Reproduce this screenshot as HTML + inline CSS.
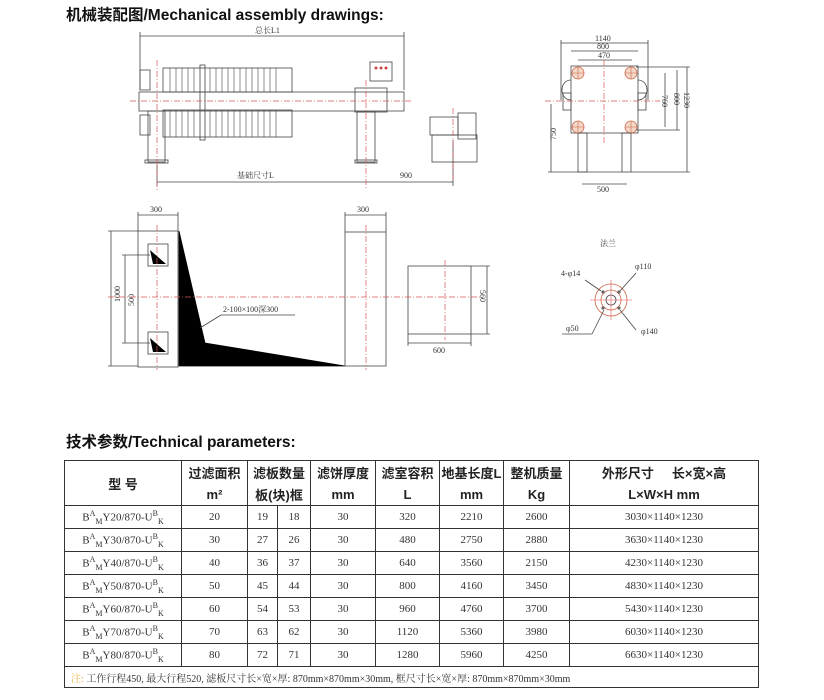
<!DOCTYPE html>
<html><head><meta charset="utf-8"><style>
body{margin:0;width:824px;height:700px;background:#fff;position:relative;overflow:hidden;font-family:"Liberation Sans","Noto Sans CJK SC",sans-serif}
.t{position:absolute;font-weight:bold;font-size:15.5px;color:#111;white-space:nowrap}
table{position:absolute;left:64px;top:460px;border-collapse:collapse;width:695px}
td{border:1px solid #333;text-align:center;font-family:"Liberation Serif","Noto Serif CJK SC",serif;font-size:11px;color:#333;height:22px;padding:0}
.h td{font-family:"Liberation Sans","Noto Sans CJK SC",sans-serif;font-weight:bold;font-size:13px;color:#222;height:22px;border-top:none;border-bottom:none}
.m{font-size:10px;text-align:left;padding-left:12px}
sup,sub{font-size:8px}
</style></head><body>
<div class="t" style="left:66px;top:3px">机械装配图/Mechanical assembly drawings:</div>
<div class="t" style="left:66px;top:430px">技术参数/Technical parameters:</div>
<svg width="824" height="420" style="position:absolute;left:0;top:0" font-family="Liberation Serif,Noto Serif CJK SC,serif" font-size="8" fill="none" stroke="#444" stroke-width="0.8">
<line x1="140" y1="36" x2="404" y2="36"/><line x1="140" y1="32" x2="140" y2="90"/><line x1="404" y1="32" x2="404" y2="90"/>
<text x="255" y="33" fill="#333" stroke="none">总长L1</text>
<rect x="163" y="68" width="129" height="24"/><rect x="163" y="110" width="129" height="27"/>
<g stroke-width="0.6">
<path d="M170 68V92M176 68V92M182 68V92M188 68V92M194 68V92M210 68V92M216 68V92M222 68V92M228 68V92M234 68V92M240 68V92M246 68V92M252 68V92M258 68V92M264 68V92M270 68V92M276 68V92"/>
<path d="M170 110V137M176 110V137M182 110V137M188 110V137M194 110V137M210 110V137M216 110V137M222 110V137M228 110V137M234 110V137M240 110V137M246 110V137M252 110V137M258 110V137M264 110V137M270 110V137M276 110V137"/>
</g>
<rect x="200" y="65" width="5" height="75"/>
<rect x="139" y="92" width="265" height="19"/>
<rect x="148" y="111" width="17" height="51"/><rect x="145" y="160" width="23" height="3"/>
<rect x="140" y="70" width="10" height="20"/><rect x="140" y="115" width="10" height="20"/>
<rect x="355" y="88" width="32" height="24"/>
<rect x="357" y="112" width="18" height="50"/><rect x="355" y="160" width="22" height="3"/>
<rect x="370" y="62" width="22" height="19"/>
<g fill="#c44" stroke="none"><circle cx="376" cy="68" r="1.5"/><circle cx="381" cy="68" r="1.5"/><circle cx="386" cy="68" r="1.5"/></g>
<rect x="430" y="117" width="28" height="18"/><rect x="458" y="113" width="18" height="26"/><rect x="432" y="135" width="45" height="27"/>
<line x1="157" y1="182" x2="453" y2="182"/><line x1="157" y1="165" x2="157" y2="186"/><line x1="453" y1="140" x2="453" y2="186"/>
<text x="237" y="178" fill="#333" stroke="none">基础尺寸L</text><text x="400" y="178" fill="#333" stroke="none">900</text>
<g stroke="#d55" stroke-dasharray="6,2,1,2" stroke-width="0.7">
<line x1="130" y1="101" x2="412" y2="101"/><line x1="157" y1="60" x2="157" y2="190"/><line x1="366" y1="80" x2="366" y2="188"/><line x1="453" y1="108" x2="453" y2="180"/>
</g>
<line x1="561" y1="43" x2="648" y2="43"/><line x1="571" y1="51" x2="638" y2="51"/><line x1="578" y1="60" x2="632" y2="60"/>
<line x1="561" y1="40" x2="561" y2="100"/><line x1="648" y1="40" x2="648" y2="100"/>
<text x="595" y="41" fill="#333" stroke="none">1140</text><text x="597" y="49" fill="#333" stroke="none">800</text><text x="598" y="58" fill="#333" stroke="none">470</text>
<rect x="571" y="66" width="67" height="67"/>
<path d="M571 80c-12 0-12 20 0 20M638 80c12 0 12 20 0 20"/>
<rect x="563" y="93" width="8" height="17"/><rect x="638" y="93" width="8" height="17"/>
<g stroke="#c64" fill="#f3d8c8"><circle cx="578" cy="73" r="6"/><circle cx="631" cy="73" r="6"/><circle cx="578" cy="127" r="6"/><circle cx="631" cy="127" r="6"/></g>
<g stroke="#c64" stroke-width="0.6"><path d="M572 73h12M578 67v12M625 73h12M631 67v12M572 127h12M578 121v12M625 127h12M631 121v12"/></g>
<rect x="578" y="133" width="9" height="39"/><rect x="622" y="133" width="9" height="39"/>
<line x1="582" y1="184" x2="627" y2="184"/><text x="597" y="192" fill="#333" stroke="none">500</text>
<line x1="551" y1="104" x2="551" y2="172"/><line x1="548" y1="172" x2="622" y2="172"/><text x="556" y="140" fill="#333" stroke="none" transform="rotate(-90 556 140)">750</text>
<line x1="665" y1="73" x2="665" y2="127"/><line x1="677" y1="70" x2="677" y2="130"/><line x1="687" y1="67" x2="687" y2="172"/>
<line x1="636" y1="67" x2="690" y2="67"/><line x1="636" y1="130" x2="680" y2="130"/><line x1="631" y1="172" x2="690" y2="172"/>
<text x="662" y="95" fill="#333" stroke="none" transform="rotate(90 662 95)">760</text><text x="674" y="93" fill="#333" stroke="none" transform="rotate(90 674 93)">800</text><text x="684" y="92" fill="#333" stroke="none" transform="rotate(90 684 92)">1230</text>
<g stroke="#d55" stroke-dasharray="6,2,1,2" stroke-width="0.7"><line x1="545" y1="101" x2="660" y2="101"/><line x1="604" y1="60" x2="604" y2="145"/></g>
<line x1="138" y1="215" x2="178" y2="215"/><text x="150" y="212" fill="#333" stroke="none">300</text>
<line x1="138" y1="212" x2="138" y2="231"/><line x1="178" y1="212" x2="178" y2="231"/>
<rect x="138" y="231" width="40" height="136"/>
<polygon points="179,231 205,343 345,366 179,366" fill="#000" stroke="#000"/>
<rect x="148" y="244" width="20" height="22"/><rect x="148" y="332" width="20" height="22"/>
<polygon points="150,250 153,264 166,264" fill="#000" stroke="none"/><polygon points="150,338 153,352 166,352" fill="#000" stroke="none"/>
<line x1="111" y1="231" x2="111" y2="366"/><line x1="108" y1="231" x2="138" y2="231"/><line x1="108" y1="366" x2="138" y2="366"/>
<line x1="125" y1="255" x2="125" y2="343"/><line x1="122" y1="255" x2="150" y2="255"/><line x1="122" y1="343" x2="150" y2="343"/>
<text x="120" y="302" fill="#333" stroke="none" transform="rotate(-90 120 302)">1000</text><text x="134" y="306" fill="#333" stroke="none" transform="rotate(-90 134 306)">500</text>
<text x="223" y="312" fill="#333" stroke="none">2-100×100深300</text><line x1="221" y1="315" x2="295" y2="315"/><line x1="200" y1="328" x2="221" y2="315"/>
<rect x="345" y="232" width="41" height="134"/><line x1="345" y1="215" x2="386" y2="215"/><text x="357" y="212" fill="#333" stroke="none">300</text>
<line x1="345" y1="212" x2="345" y2="232"/><line x1="386" y1="212" x2="386" y2="232"/>
<rect x="408" y="266" width="63" height="68"/><line x1="471" y1="266" x2="490" y2="266"/><line x1="471" y1="334" x2="490" y2="334"/>
<line x1="487" y1="266" x2="487" y2="334"/><text x="480" y="290" fill="#333" stroke="none" transform="rotate(90 480 290)">560</text>
<line x1="408" y1="343" x2="471" y2="343"/><line x1="408" y1="334" x2="408" y2="346"/><line x1="471" y1="334" x2="471" y2="346"/><text x="433" y="353" fill="#333" stroke="none">600</text>
<g stroke="#d55" stroke-dasharray="6,2,1,2" stroke-width="0.7"><line x1="108" y1="297" x2="405" y2="297"/><line x1="157" y1="225" x2="157" y2="370"/><line x1="366" y1="225" x2="366" y2="370"/><line x1="445" y1="260" x2="445" y2="340"/><line x1="405" y1="297" x2="480" y2="297"/></g>
<text x="600" y="246" fill="#333" stroke="none">法兰</text>
<circle cx="611" cy="300" r="16" stroke="#c64"/><circle cx="611" cy="300" r="10" stroke="#c64"/><circle cx="611" cy="300" r="5"/>
<g fill="#666" stroke="none"><circle cx="603" cy="292" r="1.6"/><circle cx="619" cy="292" r="1.6"/><circle cx="603" cy="308" r="1.6"/><circle cx="619" cy="308" r="1.6"/></g>
<g stroke="#d55" stroke-width="0.6"><line x1="590" y1="300" x2="632" y2="300"/><line x1="611" y1="280" x2="611" y2="320"/></g>
<text x="561" y="276" fill="#333" stroke="none">4-φ14</text><line x1="585" y1="280" x2="601" y2="291"/>
<text x="635" y="269" fill="#333" stroke="none">φ110</text><line x1="636" y1="273" x2="620" y2="291"/>
<text x="566" y="331" fill="#333" stroke="none">φ50</text><line x1="562" y1="334" x2="592" y2="334"/><line x1="592" y1="334" x2="604" y2="310"/>
<text x="641" y="334" fill="#333" stroke="none">φ140</text><line x1="620" y1="310" x2="636" y2="330"/>
</svg>
<table>
<colgroup><col style="width:117px"><col style="width:66px"><col style="width:30px"><col style="width:33px"><col style="width:65px"><col style="width:64px"><col style="width:64px"><col style="width:66px"><col></colgroup>
<tr class="h" style="border-top:1px solid #333"><td rowspan="2" style="border-bottom:1px solid #333">型 号</td><td>过滤面积</td><td colspan="2">滤板数量</td><td>滤饼厚度</td><td>滤室容积</td><td>地基长度L</td><td>整机质量</td><td>外形尺寸&nbsp;&nbsp;&nbsp;&nbsp;&nbsp;长×宽×高</td></tr>
<tr class="h" style="border-bottom:1px solid #333"><td style="border-bottom:1px solid #333">m²</td><td colspan="2" style="border-bottom:1px solid #333">板(块)框</td><td style="border-bottom:1px solid #333">mm</td><td style="border-bottom:1px solid #333">L</td><td style="border-bottom:1px solid #333">mm</td><td style="border-bottom:1px solid #333">Kg</td><td style="border-bottom:1px solid #333">L×W×H mm</td></tr>
<tr><td>B<sup>A</sup><sub>M</sub>Y20/870-U<sup>B</sup><sub>K</sub></td><td>20</td><td>19</td><td>18</td><td>30</td><td>320</td><td>2210</td><td>2600</td><td>3030×1140×1230</td></tr>
<tr><td>B<sup>A</sup><sub>M</sub>Y30/870-U<sup>B</sup><sub>K</sub></td><td>30</td><td>27</td><td>26</td><td>30</td><td>480</td><td>2750</td><td>2880</td><td>3630×1140×1230</td></tr>
<tr><td>B<sup>A</sup><sub>M</sub>Y40/870-U<sup>B</sup><sub>K</sub></td><td>40</td><td>36</td><td>37</td><td>30</td><td>640</td><td>3560</td><td>2150</td><td>4230×1140×1230</td></tr>
<tr><td>B<sup>A</sup><sub>M</sub>Y50/870-U<sup>B</sup><sub>K</sub></td><td>50</td><td>45</td><td>44</td><td>30</td><td>800</td><td>4160</td><td>3450</td><td>4830×1140×1230</td></tr>
<tr><td>B<sup>A</sup><sub>M</sub>Y60/870-U<sup>B</sup><sub>K</sub></td><td>60</td><td>54</td><td>53</td><td>30</td><td>960</td><td>4760</td><td>3700</td><td>5430×1140×1230</td></tr>
<tr><td>B<sup>A</sup><sub>M</sub>Y70/870-U<sup>B</sup><sub>K</sub></td><td>70</td><td>63</td><td>62</td><td>30</td><td>1120</td><td>5360</td><td>3980</td><td>6030×1140×1230</td></tr>
<tr><td>B<sup>A</sup><sub>M</sub>Y80/870-U<sup>B</sup><sub>K</sub></td><td>80</td><td>72</td><td>71</td><td>30</td><td>1280</td><td>5960</td><td>4250</td><td>6630×1140×1230</td></tr>
<tr><td colspan="9" class="m" style="text-align:left;padding-left:6px;height:20px"><span style="color:#e8b040">注:</span> 工作行程450, 最大行程520, 滤板尺寸长×宽×厚: 870mm×870mm×30mm, 框尺寸长×宽×厚: 870mm×870mm×30mm</td></tr>
</table>
</body></html>
